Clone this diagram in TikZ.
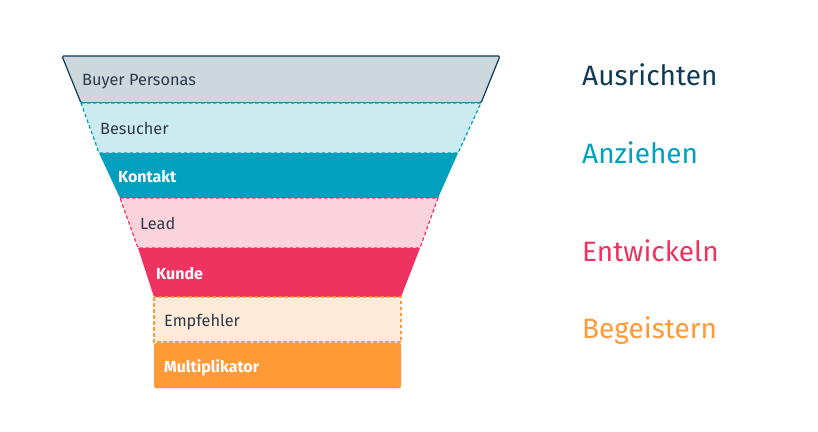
\documentclass[tikz,border=0pt]{standalone}
\usepackage{fontspec}
\setmainfont{Fira Sans}
\usetikzlibrary{shadows}
\definecolor{navy}{HTML}{0F3B56}
\definecolor{ink}{HTML}{2E3A48}
\definecolor{greyfill}{HTML}{CDD7DE}
\definecolor{teal}{HTML}{00A0BE}
\definecolor{teallight}{HTML}{CCEBF1}
\definecolor{rose}{HTML}{EE3360}
\definecolor{roselight}{HTML}{FAD3DC}
\definecolor{amber}{HTML}{FF9A36}
\definecolor{amberlight}{HTML}{FFEBD9}
\begin{document}
\begin{tikzpicture}[
  x=1pt, y=-1pt,
  stage/.style={anchor=west, inner sep=0pt, text height=11pt, text depth=3pt,
    font=\fontsize{16.3}{19}\selectfont, text=ink},
  strongstage/.style={stage, font=\fontsize{16}{19}\selectfont\bfseries, text=white},
  phase/.style={anchor=west, inner sep=0pt, text height=20pt, text depth=4pt,
    font=\fontsize{28}{32}\selectfont},
  dashedlayer/.style={line width=1.2pt, dash pattern=on 3.5pt off 2.5pt}
]
\useasboundingbox (0,0) rectangle (818,431);
\filldraw[fill=greyfill, draw=navy, line width=1.2pt, rounded corners=1.5pt]
  (62,56) -- (500,56) -- (481,103) -- (81,103) -- cycle;
\filldraw[fill=teallight, draw=teal, dashedlayer]
  (81,103) -- (481,103) -- (458,153) -- (99,153) -- cycle;
\fill[teal] (99,153) -- (458,153) -- (438,198) -- (120,198) -- cycle;
\filldraw[fill=roselight, draw=rose, dashedlayer]
  (120,198) -- (438,198) -- (420,248) -- (138,248) -- cycle;
\fill[rose] (138,248) -- (420,248) -- (401,297) -- (154,297) -- cycle;
\filldraw[fill=amberlight, draw=amber, dashedlayer] (154,297) rectangle (401,342);
\fill[amber, rounded corners=2pt, drop shadow={opacity=0.12, shadow xshift=0pt, shadow yshift=-1.5pt}]
  (154,343) rectangle (401,388);
\node[stage] (buyer) at (82,81) {Buyer Personas};
\node[stage] (besucher) at (100,130) {Besucher};
\node[strongstage] (kontakt) at (118,178) {Kontakt};
\node[stage] (lead) at (140,225) {Lead};
\node[strongstage] (kunde) at (156,275) {Kunde};
\node[stage] (empfehler) at (164,322) {Empfehler};
\node[strongstage] (multi) at (164,368) {Multiplikator};
\node[phase, text=navy] (ausrichten) at (582,77) {Ausrichten};
\node[phase, text=teal] (anziehen) at (582,155) {Anziehen};
\node[phase, text=rose] (entwickeln) at (582,253) {Entwickeln};
\node[phase, text=amber] (begeistern) at (582,330) {Begeistern};
\end{tikzpicture}
\end{document}
